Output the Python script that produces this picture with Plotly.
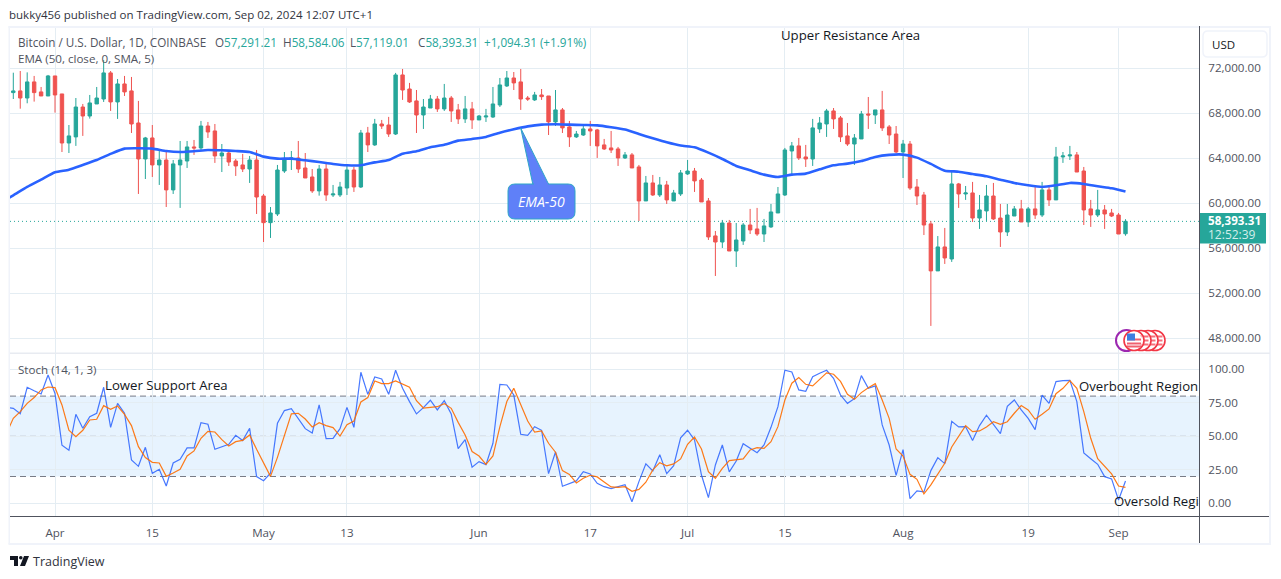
import pandas as pd
import plotly.graph_objects as go

W, H = 1281, 579
start_date = "2024-03-26"
opens = [69840,69990,69360,70790,69900,69540,71320,69720,65360,65900,
68560,67760,68830,69270,71590,69010,70610,69990,67140,63940,
65810,63410,63850,61190,63410,63760,65010,64920,66870,66430,
64210,64470,63760,63410,63050,63850,60650,58280,59050,62870,
63940,64030,63140,62340,61100,63050,60740,60740,61360,62960,
61450,66250,65190,67050,66960,66160,
71410,70160,69100,67850,68470,69270,68390,69360,68300,67500,68390,67410,67670,67670,68740,70430,71140,70790,69360,69190,
69630,69540,67230,68300,66790,65900,66070,66610,66520,65190,64920,64830,64030,64300,63230,60210,61810,60740,61630,60210,
60830,62610,62870,62070,60210,57100,56560,58250,55760,56650,58070,57720,57270,57900,59140,60740,64650,65100,
64120,63940,66610,67050,68210,67590,65990,65270,65720,67940,67850,68300,66790,66160,64560,65270,61450,60740,58170,53990,
56120,55050,61720,60830,60920,58690,59320,60650,58690,57450,58870,59500,58340,59500,58960,61190,60300,64120,64210,64300,
62870,59500,58960,59410,59140,58960,57291.21]
highs = [71610,71760,71640,71320,70340,71410,71320,69720,66960,69360,
68830,69630,70340,72740,71760,71050,71320,71230,69100,65900,
66960,64650,64650,63850,65540,65540,65630,67320,67230,67050,
65270,64740,63940,64390,64210,64740,60830,59670,63410,64560,
64650,65540,64470,63050,63410,63500,61630,61900,63410,63230,
66520,66790,67500,67410,67680,71590,
71940,70700,70070,69270,69630,69540,70610,69540,68830,69540,69010,67850,68390,70340,71140,71760,71670,71940,69540,69900,
70160,69540,70070,68470,67320,66430,66870,67320,66610,65720,66430,65010,64560,64470,63410,62430,62520,62340,61990,61190,
62960,63850,63140,62250,60470,57540,58520,58520,58250,58250,59500,59590,58610,59940,61450,64920,65450,65810,
65190,67500,67670,68390,68470,67760,67140,66160,68210,69450,68300,69990,66960,66870,65630,65540,62160,61010,58430,57090,
57810,62780,61810,61540,61900,60740,61630,61810,59940,59940,59760,60300,59670,61450,61900,61450,65010,64560,65100,64560,
63230,60300,61190,59850,59500,59140,58584.06]
lows = [69270,68410,68890,69040,69540,69540,68060,64560,64470,65100,
65990,67530,68830,69010,68210,67500,69540,66250,60830,62160,
62340,61630,59670,60830,59590,63140,64300,64740,65810,63590,
62780,63320,62430,62780,61810,59050,56560,56920,58870,62700,
62960,62700,62250,60920,60680,60210,60560,60560,60740,61010,
61360,64560,65100,66610,65900,66070,
69190,68920,66250,66610,68470,68120,68210,67230,67050,67140,66610,67410,67230,67590,68560,70340,70070,68300,69100,69100,
69190,66070,66870,66250,65010,65810,65990,65100,64030,64740,64470,63320,63940,63140,58430,60210,60650,60560,59940,60210,
60650,62520,61010,60120,56740,53540,56030,55760,54340,56300,57270,57100,56560,57810,59140,60650,62520,63850,
63230,63320,66250,65900,66610,65450,65100,63410,65720,66610,67050,66430,65270,64470,62250,61190,59850,57180,49100,53990,
54610,54790,59590,60300,58340,57720,58430,58520,56120,57090,58870,58340,57900,58610,58780,59760,60300,63590,63850,62780,
58070,57900,58780,57720,58780,57270,57119.01]
closes = [69990,69360,70790,69840,69540,71320,69630,65360,65990,68560,
67760,68920,69360,71590,69010,70610,69900,67050,63940,65810,
63410,63850,61190,63500,63850,65010,64920,66870,66340,64210,
64470,63670,63320,63050,63850,60560,58280,59140,62960,63940,
64030,63050,62250,61100,63050,60740,60830,61450,62960,61450,
66250,65190,67050,66870,66160,71410,
70070,69010,67850,68560,69270,68390,69360,68210,67500,68390,67410,67760,67760,68830,70520,71140,70700,69270,69270,69630,
69480,67230,68300,66700,65900,66160,66610,66430,65100,64830,64740,64030,64300,63140,60210,61810,60740,61630,60300,60920,
62700,62870,61990,60120,57010,56560,58250,55760,56740,58070,57630,57270,57990,59230,60830,64740,65100,64030,
63940,66700,67140,68210,67500,65900,65270,65810,67940,67850,68300,66700,66070,64560,65270,61360,60650,58070,53990,56120,
55140,61720,60830,60920,58690,59410,60650,58610,57450,58960,59500,58340,59500,58960,61190,60300,64120,64210,64300,62780,
59410,58960,59410,59050,58870,57270,58393.31]
# EMA read every second day, the first reading two days before start_date
ema50 = [60000,60710,61450,62100,62760,62990,63410,63850,64390,64860,64890,64860,64650,64560,64620,64740,64710,64650,64560,64150,
63970,63970,63820,63670,63500,63380,63380,63640,63850,
64410,64620,64980,65210,65570,65720,65900,66280,66580,66840,66990,67020,66990,66960,66930,66760,66550,66160,65780,65420,65130,
64980,64500,63940,63320,62930,62550,62340,
62550,62640,63020,63380,63530,63760,64120,64300,64330,64060,63500,62900,62810,62600,62400,62100,61810,61600,61450,61600,61810,
61720,61510,61330,61040]
# Stochastic readings start one day before start_date (the pane is cut at its left edge)
stoch_k = [71.5,70.9,66.9,86.6,84,81.6,95.8,82,43.3,39.6,66.4,56,64.7,67.2,86.6,56.7,74.6,67.2,32.3,27.6,41.8,
22.4,25.4,12.9,30.1,32.8,41.3,41.3,60.2,59,40.3,42.3,44,50.7,46.8,56,19.9,16.9,22.4,59.7,69.2,
70.6,62.9,55.7,52.5,73.4,48.3,48.5,55.7,71.6,56.7,97.8,81.3,94.3,92.8,81.3,99.3,85.8,75.9,66.7,71.4,
76.9,69.7,76.6,66.7,40.8,47.5,26.9,31.1,28.9,44.8,88.8,88.3,80.8,51.5,50.7,57.2,54.5,22.1,38.3,12.7,
14.7,16.7,23.6,21.9,14.9,12.4,10.9,12.2,13.9,1.2,16.2,29.4,24.1,36.3,22.1,28.1,48.8,54.5,47.3,21.1,
4.2,28.6,43.5,23.4,31.6,44.5,41.3,37.8,43.5,56.7,72.1,99.3,98,84.6,83.6,94.5,97,99.3,93.3,80.8,
74.6,78.1,95.3,85.8,87.6,58.5,43.5,20.9,40,3.5,9.2,8.5,24.4,34.1,29.6,61.2,57,57.2,46.8,58,
65.7,59.2,52,72.4,77.1,69.7,63.4,55,80.8,74.6,90.8,91.5,91.8,75.9,37.6,33.3,29.1,19.9,18.2,2.5,16.7]
stoch_d = [52,63.4,68.4,74.6,78.9,84.6,86.8,86.3,73.4,54.5,49.8,54.5,62.2,62.7,72.9,70.1,72.6,66.4,58,42.3,34.1,
30.6,30.1,20.1,22.6,25.4,35.3,39.1,48.5,53.7,53.2,47.5,42.8,46,47,51,40.3,29.9,20.1,34.3,51,
66.7,67.2,62.9,57,60.2,58,56.5,50.2,58.7,61.4,75.6,78.9,91.3,89.3,89.3,91.3,88.8,86.6,76.6,71.1,
71.6,72.1,74.4,70.9,60.4,51,38.6,35.3,29.1,35.3,57.2,75.9,85.8,73.4,61.4,53.2,54,44.8,38.1,24.4,
21.6,15.2,18.7,20.9,19.7,15.9,12.2,11.9,12.4,9,10.4,15.7,24.9,30.3,27.9,29.4,33.1,44,49.5,40.5,
23.6,18.7,26.1,31.8,32.6,33.1,39.8,41.5,41,46,57.2,77.1,89.6,93.8,88.8,87.6,92.5,97.3,96.3,91,
81.3,77.6,82.6,86.3,89.3,77.1,63.4,40.5,35.3,21.6,17.9,7,13.7,21.6,29.9,42,49.8,58,53.5,54,
57,60.9,58.9,60.9,67.2,72.9,69.7,62.7,66.4,70.4,81.8,85.8,91.5,85.8,68.4,48.5,33.3,27.4,21.9,12.9,11.9]
x_tick_dates = ["2024-04-01","2024-04-15","2024-05-01","2024-05-13","2024-06-01","2024-06-17","2024-07-01","2024-07-15","2024-08-01","2024-08-19","2024-09-01"]
x_tick_labels = ["Apr","15","May","13","Jun","17","Jul","15","Aug","19","Sep"]
price_ticks = [48000,52000,56000,60000,64000,68000,72000]
stoch_ticks = [0,25,50,75,100]

UP, DOWN = "#26a69a", "#ef5350"
GRID = "#e4edf3"
TXT = "#50535e"
BORDER = "#f0f3fa"
FONT = "Open Sans"

dates = pd.date_range(start_date, periods=len(closes), freq="D")
ema_dates = pd.date_range(pd.Timestamp(start_date) - pd.Timedelta(days=2), periods=len(ema50), freq="2D")
stoch_dates = pd.date_range(pd.Timestamp(start_date) - pd.Timedelta(days=1), periods=len(stoch_k), freq="D")

def X(x): return x / W
def Y(y): return 1 - y / H

PX_DAY = 6.953
x_left = pd.Timestamp(start_date) + pd.Timedelta(days=(10 - 13.3) / PX_DAY)
x_right = pd.Timestamp(start_date) + pd.Timedelta(days=(1199.3 - 13.3) / PX_DAY)

fig = go.Figure()
fig.add_trace(go.Candlestick(x=dates, open=opens, high=highs, low=lows, close=closes,
    increasing=dict(line=dict(color=UP, width=1), fillcolor=UP),
    decreasing=dict(line=dict(color=DOWN, width=1), fillcolor=DOWN),
    whiskerwidth=0, xaxis="x", yaxis="y", showlegend=False, hoverinfo="skip"))
fig.add_trace(go.Scatter(x=ema_dates, y=ema50, mode="lines", line=dict(color="#2962ff", width=2.6, shape="spline", smoothing=0.5),
    xaxis="x", yaxis="y", showlegend=False, hoverinfo="skip"))
fig.add_trace(go.Scatter(x=stoch_dates, y=stoch_k, mode="lines", line=dict(color="#2962ff", width=1.2), opacity=0.85,
    xaxis="x2", yaxis="y2", showlegend=False, hoverinfo="skip"))
fig.add_trace(go.Scatter(x=stoch_dates, y=stoch_d, mode="lines", line=dict(color="#ff6d00", width=1.2), opacity=0.9,
    xaxis="x2", yaxis="y2", showlegend=False, hoverinfo="skip"))

def pxrect(x0, y0, x1, y1, **kw):
    return dict(type="rect", xref="paper", yref="paper", x0=X(x0), x1=X(x1), y0=Y(y0), y1=Y(y1), **kw)

def pxline(x0, y0, x1, y1, color, width=1, layer="above"):
    return dict(type="line", xref="paper", yref="paper", x0=X(x0), x1=X(x1), y0=Y(y0), y1=Y(y1),
                line=dict(color=color, width=width), layer=layer)

def pxpath(points, **kw):
    d = "M " + " L ".join(f"{X(a):.5f} {Y(b):.5f}" for a, b in points) + " Z"
    return dict(type="path", xref="paper", yref="paper", path=d, **kw)

def rounded(x0, y0, x1, y1, r):
    d = (f"M {X(x0+r):.5f} {Y(y0):.5f} L {X(x1-r):.5f} {Y(y0):.5f} Q {X(x1):.5f} {Y(y0):.5f} {X(x1):.5f} {Y(y0+r):.5f} "
         f"L {X(x1):.5f} {Y(y1-r):.5f} Q {X(x1):.5f} {Y(y1):.5f} {X(x1-r):.5f} {Y(y1):.5f} "
         f"L {X(x0+r):.5f} {Y(y1):.5f} Q {X(x0):.5f} {Y(y1):.5f} {X(x0):.5f} {Y(y1-r):.5f} "
         f"L {X(x0):.5f} {Y(y0+r):.5f} Q {X(x0):.5f} {Y(y0):.5f} {X(x0+r):.5f} {Y(y0):.5f} Z")
    return d

shapes = []
# outer frame
shapes += [pxrect(8.5, 26, 10, 544, fillcolor=BORDER, line_width=0, layer="below"),
           pxrect(8.5, 26, 1271, 28, fillcolor=BORDER, line_width=0, layer="below"),
           pxrect(1269, 26, 1271, 544, fillcolor=BORDER, line_width=0, layer="below"),
           pxrect(8.5, 543, 1271, 545, fillcolor=BORDER, line_width=0, layer="below"),
           pxrect(10, 352.5, 1270, 354, fillcolor="#e8ebf1", line_width=0, layer="above")]
# stochastic band and its levels
shapes.append(dict(type="rect", xref="paper", yref="y2", x0=X(10), x1=X(1199), y0=20, y1=80,
                   fillcolor="rgba(33,150,243,0.11)", line_width=0, layer="below"))
for lv, col in ((80, "#787b86"), (50, "#a3a6af"), (20, "#787b86")):
    shapes.append(dict(type="line", xref="paper", yref="y2", x0=X(10), x1=X(1199), y0=lv, y1=lv,
                       line=dict(color=col, width=1, dash="6px,4px"), layer="below"))
# last price line
shapes.append(dict(type="line", xref="paper", yref="y", x0=X(10), x1=X(1199), y0=closes[-1], y1=closes[-1],
                   line=dict(color=UP, width=1, dash="1px,3px"), layer="below"))
# axis lines
shapes += [pxline(1199.5, 26, 1199.5, 543, "#50535e"), pxline(10, 516.5, 1269, 516.5, "#50535e")]
# price tag
shapes.append(pxrect(1200, 213, 1266, 243.5, fillcolor=UP, line_width=0, layer="above"))
# USD button
shapes.append(dict(type="path", xref="paper", yref="paper", path=rounded(1203, 31, 1267, 57, 5),
                   fillcolor="white", line=dict(color=BORDER, width=1.5), layer="above"))
# EMA-50 callout
CALL_F, CALL_B = "#5f80f8", "#2ea6c7"
shapes.append(pxpath([(520.7, 128), (533, 185), (549, 185)], fillcolor=CALL_F, line=dict(color=CALL_B, width=1), layer="above"))
shapes.append(dict(type="path", xref="paper", yref="paper", path=rounded(508, 184, 575, 219, 7),
                   fillcolor=CALL_F, line=dict(color=CALL_B, width=1), layer="above"))
shapes.append(pxpath([(534, 183), (548, 183), (548, 186), (534, 186)], fillcolor=CALL_F, line_width=0, layer="above"))
# economic-event flags
CY = 340.5
shapes.append(dict(type="circle", xref="paper", yref="paper", x0=X(1116), x1=X(1137), y0=Y(CY-10.5), y1=Y(CY+10.5),
                   fillcolor="white", line=dict(color="#9c27b0", width=2), layer="above"))
for cx in (1155, 1148, 1141, 1134):
    shapes.append(dict(type="circle", xref="paper", yref="paper", x0=X(cx-10), x1=X(cx+10), y0=Y(CY-10), y1=Y(CY+10),
                       fillcolor="white", line=dict(color="#f23645", width=1.6), layer="above"))
    for dy in (-4, 0, 4):
        shapes.append(pxline(cx-6.5, CY+dy, cx+7.5, CY+dy, "#f5707c", 2))
shapes.append(dict(type="circle", xref="paper", yref="paper", x0=X(1126), x1=X(1142), y0=Y(CY-8), y1=Y(CY+8),
                   fillcolor="white", line=dict(color="white", width=0), layer="above"))
for dy in (-1, 3, 6):
    shapes.append(pxline(1127, CY+dy, 1141, CY+dy, "#f0606e", 2))
shapes.append(pxrect(1127, CY-7, 1135, CY, fillcolor="#3d7fe0", line_width=0, layer="above"))
# TradingView logo
shapes.append(pxpath([(10, 556), (18, 556), (18, 566), (14, 566), (14, 560), (10, 560)], fillcolor="#131722", line_width=0, layer="above"))
shapes.append(pxpath([(24, 556), (29, 556), (25, 566), (20, 566)], fillcolor="#131722", line_width=0, layer="above"))
shapes.append(dict(type="circle", xref="paper", yref="paper", x0=X(19), x1=X(22.6), y0=Y(556), y1=Y(559.6),
                   fillcolor="#131722", line_width=0, layer="above"))

def note(x, y, text, size=12, color=TXT, anchor="left", **kw):
    xp = x - 2 if anchor == "left" else x
    return dict(xref="paper", yref="paper", x=X(xp), y=Y(y), text=text, showarrow=False, xanchor=anchor, yanchor="middle",
                font=dict(family=FONT, size=size, color=color), **kw)

def val(s):
    return f'<span style="color:{UP}">{s}</span>'

legend_parts = [(18, "Bitcoin / U.S. Dollar, 1D, COINBASE"), (215, "O" + val("57,291.21")), (282.5, "H" + val("58,584.06")),
                (350, "L" + val("57,119.01")), (418, "C" + val("58,393.31")), (484, val("+1,094.31 (+1.91%)"))]
annotations = [note(9, 14.5, "bukky456 published on TradingView.com, Sep 02, 2024 12:07 UTC+1", 11.5, "#30333d")]
annotations += [note(a, 42, t, 11.7) for a, t in legend_parts]
annotations += [
    note(18, 59, "EMA (50, close, 0, SMA, 5)", 11.6),
    note(18, 369, "Stoch (14, 1, 3)", 11.6),
    note(850, 35, "Upper Resistance Area", 13.2, "#131722", "center"),
    note(105, 384.5, "Lower Support Area", 13.2, "#131722"),
    note(1079, 385.5, "Overbought Region", 13.2, "#131722"),
    note(1114, 500.5, "Oversold Regi", 13.2, "#131722"),
    note(541.5, 201.5, "<i>EMA-50</i>", 14, "white", "center"),
    note(1212, 44.5, "USD", 11.5, "#131722"),
    note(1208, 221, "<b>58,393.31</b>", 11.6, "white"),
    note(1208, 235, "12:52:39", 12, "#d4eeeb"),
    note(33, 561.5, "TradingView", 12.5, "#30333d"),
]

axis_common = dict(showgrid=True, gridcolor=GRID, gridwidth=1, zeroline=False, showline=False)
fig.update_layout(
    width=W, height=H, margin=dict(l=0, r=0, t=0, b=0), autosize=False,
    paper_bgcolor="white", plot_bgcolor="white", showlegend=False, hovermode=False, boxgap=0.3,
    shapes=shapes, annotations=annotations,
    font=dict(family=FONT, size=12, color=TXT),
    xaxis=dict(domain=[X(10), X(1199)], range=[x_left, x_right], anchor="y", type="date", matches="x2",
               rangeslider=dict(visible=False), tickvals=x_tick_dates, showticklabels=False, ticks="", **axis_common),
    yaxis=dict(domain=[Y(353), Y(28)], range=[72000 - (353 - 68.3) * 88.89, 72000 + (68.3 - 28) * 88.89], anchor="x", side="right",
               tickvals=price_ticks, tickformat=",.2f", ticks="outside", ticklen=6, tickcolor="rgba(0,0,0,0)",
               tickfont=dict(family=FONT, size=11.6, color=TXT), automargin=False, **axis_common),
    xaxis2=dict(domain=[X(10), X(1199)], range=[x_left, x_right], anchor="y2", type="date",
                tickvals=x_tick_dates, ticktext=x_tick_labels, ticks="outside", ticklen=6, tickcolor="rgba(0,0,0,0)",
                tickfont=dict(family=FONT, size=11.6, color=TXT), automargin=False, **axis_common),
    yaxis2=dict(domain=[Y(516), Y(354)], range=[(503.3 - 516) / 1.34, (503.3 - 354) / 1.34], anchor="x2", side="right",
                tickvals=stoch_ticks, tickformat=".2f", ticks="outside", ticklen=6, tickcolor="rgba(0,0,0,0)",
                tickfont=dict(family=FONT, size=11.6, color=TXT), automargin=False, **axis_common),
)
fig.write_html("out.html", config=dict(displayModeBar=False, responsive=False),
               post_script="document.body.style.margin='0';document.documentElement.style.overflow='hidden';")
